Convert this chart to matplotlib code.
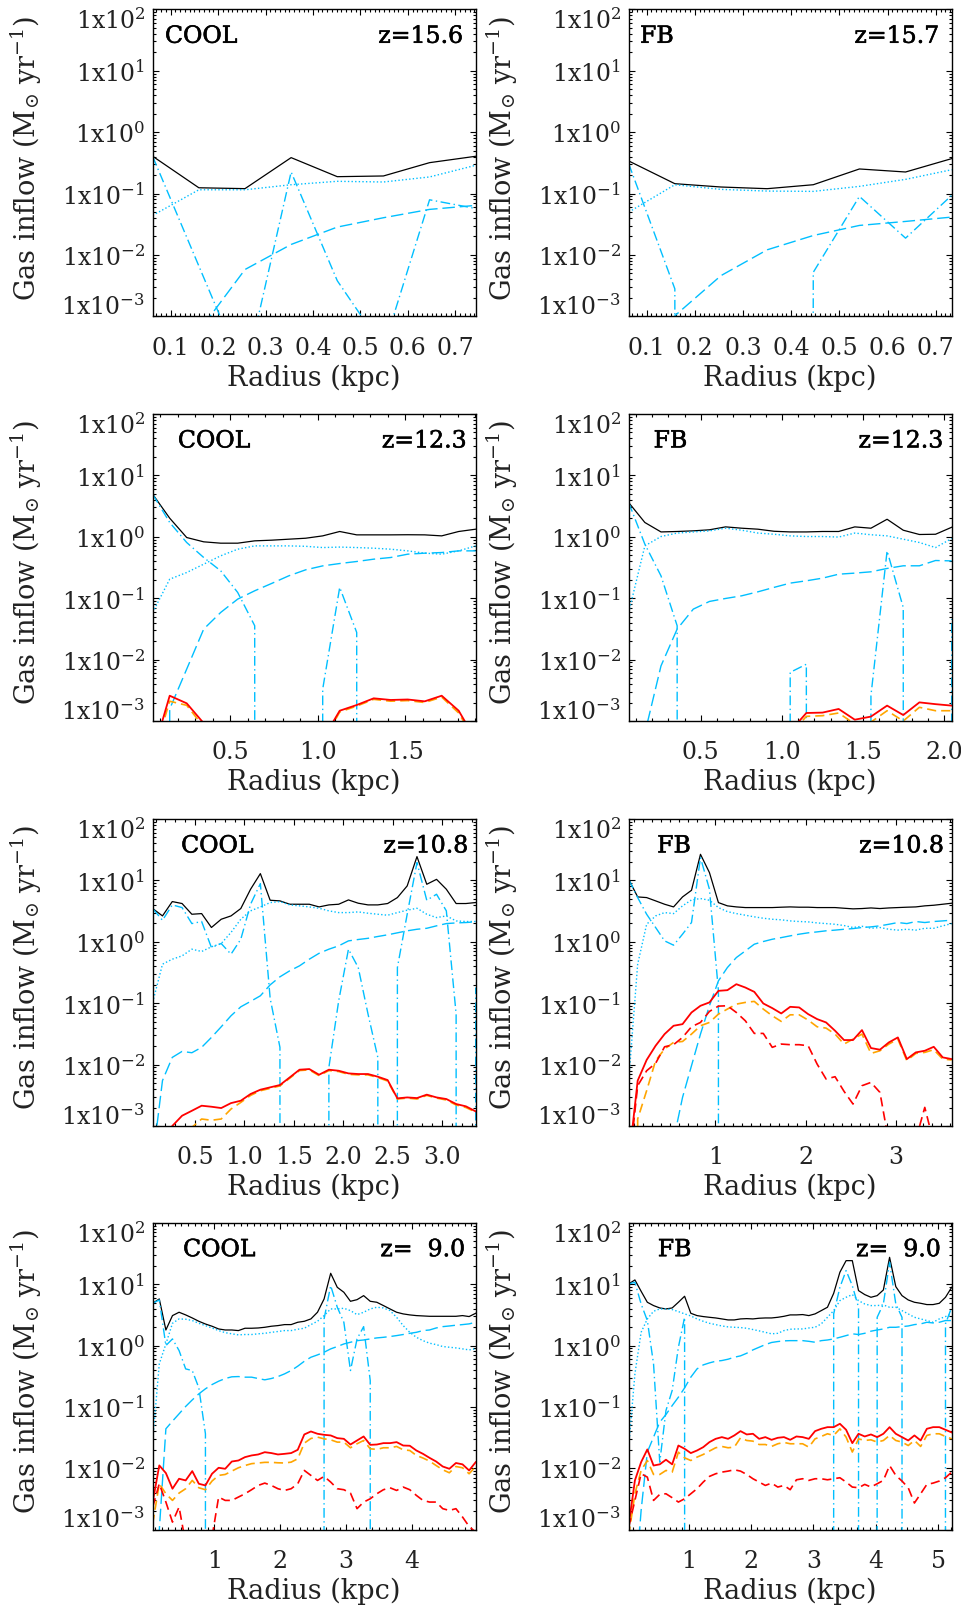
import numpy as np
import matplotlib
matplotlib.use('Agg')
import matplotlib.pyplot as plt
import matplotlib.transforms as mtrans
import matplotlib.patheffects as pe
from matplotlib.ticker import MultipleLocator, LogLocator, NullFormatter, FormatStrFormatter

plt.rcParams['font.family'] = ['DejaVu Serif']
plt.rcParams['mathtext.fontset'] = 'dejavuserif'

CYAN = '#00BFFF'
ORANGE = '#FFA500'
RED = '#FF0000'
TXT = '#222222'

# ---------------- COOL, z = 15.6 ----------------
r_cool_156 = np.linspace(0.062, 0.743, 8)
tot_cool_156 = [0.404, 0.124, 0.120, 0.384, 0.188, 0.193, 0.318, 0.404]
dot_cool_156 = [0.044, 0.115, 0.115, 0.139, 0.158, 0.154, 0.186, 0.288]
dash_cool_156 = [0, 5.7e-4, 5.78e-3, 0.0148, 0.0284, 0.0403, 0.0551, 0.064]
dd_cool_156 = [0.40, 6.6e-3, 1.1e-4, 0.224, 3.8e-3, 3.0e-4, 0.079, 0.057]

# ---------------- FB, z = 15.7 ----------------
r_fb_157 = np.linspace(0.0627, 0.733, 8)
tot_fb_157 = [0.339, 0.1445, 0.1276, 0.1198, 0.139, 0.251, 0.224, 0.370]
dot_fb_157 = [0.0498, 0.139, 0.1167, 0.1096, 0.1083, 0.1307, 0.170, 0.244]
dash_fb_157 = [0, 1.02e-3, 4.6e-3, 0.0121, 0.0207, 0.0302, 0.0351, 0.0413]
dd_fb_157 = [0.306, 2.8e-3, 0, 0, 5.2e-3, 0.0897, 0.01875, 0.0933]

# ---------------- COOL, z = 12.3 ----------------
r_cool_123 = np.linspace(0.058, 1.902, 20)
tot_cool_123 = [4.93, 2.01, 0.973, 0.828, 0.787, 0.787, 0.859, 0.881, 0.914, 0.948,
                1.035, 1.22, 1.075, 1.075, 1.075, 1.08, 1.075, 1.035, 1.22, 1.33]
dot_cool_123 = [0.0586, 0.204, 0.262, 0.358, 0.49, 0.628, 0.711, 0.711, 0.711, 0.70,
                0.668, 0.68, 0.668, 0.652, 0.628, 0.59, 0.541, 0.521, 0.59, 0.711]
dash_cool_123 = [0, 1.57e-3, 7.0e-3, 0.0314, 0.0586, 0.0966, 0.132, 0.174, 0.231, 0.290,
                 0.336, 0.367, 0.396, 0.432, 0.46, 0.521, 0.541, 0.554, 0.59, 0.59]
dd_cool_123 = [4.93, 1.71, 0.807, 0.46, 0.279, 0.124, 0.0356, 0, 0, 0,
               3.3e-3, 0.150, 0.0277, 0, 0, 0, 0, 0, 0, 0]
red_cool_123 = [2.9e-4, 2.58e-3, 1.94e-3, 9.2e-4, 0, 0, 0, 0, 0, 0,
                5e-4, 1.47e-3, 1.82e-3, 2.34e-3, 2.2e-3, 2.24e-3, 2.09e-3, 2.58e-3, 1.47e-3, 4.9e-4]
org_cool_123 = [2.5e-4, 2.1e-3, 1.8e-3, 8e-4, 0, 0, 0, 0, 0, 0,
                4.5e-4, 1.4e-3, 1.75e-3, 2.25e-3, 2.1e-3, 2.15e-3, 2.0e-3, 2.45e-3, 1.35e-3, 4.5e-4]

# ---------------- FB, z = 12.3 ----------------
r_fb_123 = np.linspace(0.056, 2.045, 21)
tot_fb_123 = [3.61, 1.71, 1.20, 1.22, 1.25, 1.30, 1.45, 1.38, 1.33, 1.23, 1.20,
              1.20, 1.22, 1.22, 1.45, 1.38, 1.93, 1.28, 1.09, 1.10, 1.43]
dot_fb_123 = [0.0586, 0.711, 1.01, 1.15, 1.20, 1.25, 1.38, 1.28, 1.15, 1.10, 1.035,
              1.01, 1.01, 0.99, 1.15, 1.08, 1.035, 0.914, 0.807, 0.668, 0.937]
dash_fb_123 = [0, 6.3e-4, 7.9e-3, 0.0314, 0.0664, 0.0885, 0.099, 0.1094, 0.127, 0.150, 0.176,
               0.192, 0.212, 0.246, 0.256, 0.269, 0.305, 0.337, 0.337, 0.411, 0.405]
dd_fb_123 = [3.61, 0.759, 0.231, 0.0356, 0, 0, 0, 0, 0, 0, 6.2e-3,
             8.4e-3, 0, 0, 0, 2.6e-3, 0.590, 0.0706, 0, 0, 0.046]
red_fb_123 = [0, 0, 0, 0, 0, 0, 0, 0, 0, 0, 6.8e-4,
              1.35e-3, 1.37e-3, 1.57e-3, 1.05e-3, 1.18e-3, 1.78e-3, 1.25e-3, 2.01e-3, 1.88e-3, 1.78e-3]
org_fb_123 = [0, 0, 0, 0, 0, 0, 0, 0, 0, 0, 6e-4,
              1.19e-3, 1.22e-3, 1.35e-3, 8.9e-4, 9.6e-4, 1.47e-3, 1.0e-3, 1.67e-3, 1.47e-3, 1.47e-3]

# ---------------- COOL, z = 10.8 ----------------
r_cool_108 = np.linspace(0.071, 3.34, 34)
tot_cool_108 = [3.48, 2.64, 4.52, 4.20, 2.81, 2.88, 1.71, 2.33, 2.64, 3.48, 7.18, 12.9,
                4.75, 4.64, 4.09, 4.09, 4.09, 3.70, 3.99, 4.09, 4.81, 4.25, 3.99, 3.99,
                4.20, 5.25, 8.13, 24.4, 8.65, 10.4, 7.18, 4.20, 4.20, 4.36]
dot_cool_108 = [0.103, 0.432, 0.521, 0.590, 0.758, 0.695, 0.828, 0.937, 1.42, 2.33, 3.19, 3.70,
                4.35, 4.52, 3.99, 3.85, 3.70, 3.52, 3.19, 2.99, 2.99, 3.07, 2.92, 2.81,
                2.71, 2.99, 3.27, 3.52, 2.81, 2.48, 2.64, 2.19, 2.14, 2.14]
dash_cool_108 = [2.8e-4, 5.5e-3, 0.0131, 0.0164, 0.0156, 0.0191, 0.0277, 0.0413, 0.0624, 0.0873,
                 0.107, 0.132, 0.199, 0.269, 0.337, 0.406, 0.521, 0.65, 0.758, 0.859, 1.035,
                 1.09, 1.14, 1.22, 1.30, 1.40, 1.51, 1.60, 1.66, 1.82, 1.98, 2.03, 2.06, 2.11]
dd_cool_108 = [3.48, 2.24, 3.99, 3.61, 1.98, 2.14, 0.807, 0.937, 0.628, 1.10, 4.09, 8.87,
               0.12, 0.0191, 0, 0, 0, 0, 9.0e-3, 0.109, 0.758, 0.381, 0.0664, 0.0131,
               0, 0.381, 2.81, 19.5, 4.75, 5.95, 3.19, 0.0664, 0, 0.18]
red_cool_108 = [2e-4, 5e-4, 1.0e-3, 1.47e-3, 1.77e-3, 2.14e-3, 2.06e-3, 1.96e-3, 2.36e-3, 2.58e-3,
                3.32e-3, 3.90e-3, 4.26e-3, 4.65e-3, 6.19e-3, 8.26e-3, 8.46e-3, 6.84e-3, 8.26e-3,
                7.94e-3, 7.19e-3, 7.02e-3, 7.02e-3, 6.35e-3, 5.60e-3, 2.82e-3, 2.92e-3, 2.85e-3,
                3.24e-3, 2.92e-3, 2.75e-3, 2.28e-3, 2.09e-3, 1.73e-3]
org_cool_108 = [1e-4, 3e-4, 5e-4, 6e-4, 9.5e-4, 1.30e-3, 1.24e-3, 1.30e-3, 1.89e-3, 2.42e-3,
                3.15e-3, 3.75e-3, 4.1e-3, 4.5e-3, 6.0e-3, 8.0e-3, 8.2e-3, 6.6e-3, 8.0e-3,
                7.7e-3, 6.95e-3, 6.8e-3, 6.8e-3, 6.15e-3, 5.4e-3, 2.75e-3, 2.85e-3, 2.75e-3,
                3.15e-3, 2.85e-3, 2.65e-3, 2.2e-3, 2.0e-3, 1.68e-3]

# ---------------- FB, z = 10.8 ----------------
r_fb_108 = np.linspace(0.041, 3.617, 37)
tot_fb_108 = [10.4, 5.38, 5.25, 4.64, 4.09, 3.70, 5.38, 6.90, 26.6, 13.4, 4.35, 3.85, 3.70,
              3.61, 3.61, 3.61, 3.61, 3.66, 3.70, 3.66, 3.66, 3.61, 3.61, 3.61, 3.52, 3.44,
              3.48, 3.56, 3.48, 3.56, 3.61, 3.66, 3.70, 3.85, 3.94, 4.09, 4.25]
dot_fb_108 = [5.5e-3, 0.432, 1.93, 2.64, 2.99, 2.88, 3.85, 4.81, 5.06, 4.75, 3.61, 3.10, 2.88,
              2.71, 2.55, 2.42, 2.33, 2.28, 2.19, 2.14, 2.11, 2.03, 1.98, 1.93, 1.84, 1.71,
              1.79, 1.66, 1.71, 1.60, 1.55, 1.60, 1.55, 1.66, 1.66, 1.82, 1.98]
dash_fb_108 = [0, 0, 0, 0, 0, 5.9e-4, 2.92e-3, 9.6e-3, 0.0314, 0.0908, 0.231, 0.381, 0.554,
               0.711, 0.914, 1.01, 1.10, 1.17, 1.25, 1.33, 1.40, 1.45, 1.51, 1.55, 1.60, 1.64,
               1.71, 1.75, 1.82, 1.93, 2.06, 1.98, 2.14, 2.06, 2.14, 2.19, 2.25]
dd_fb_108 = [10.4, 5.25, 2.81, 1.71, 1.035, 0.881, 1.33, 2.06, 23.5, 7.18, 0.159, 0, 0,
             0, 0, 0, 0, 0, 0, 0, 0, 0, 0, 0, 0, 0,
             0, 0, 0, 0, 0, 0, 0, 0, 0, 0, 0]
red_fb_108 = [2.6e-4, 5.47e-3, 0.0119, 0.0203, 0.0314, 0.0429, 0.0456, 0.0706, 0.0908, 0.103,
              0.159, 0.163, 0.204, 0.180, 0.153, 0.099, 0.0832, 0.0681, 0.0873, 0.0853, 0.0664,
              0.0551, 0.0486, 0.0356, 0.0251, 0.0251, 0.0365, 0.0186, 0.0175, 0.0230, 0.0277,
              0.0123, 0.0158, 0.0168, 0.0195, 0.0131, 0.0123]
org_fb_108 = [0, 1.3e-3, 3.76e-3, 0.0116, 0.0179, 0.0230, 0.0238, 0.0314, 0.0429, 0.0486,
              0.0664, 0.0802, 0.0966, 0.103, 0.107, 0.0802, 0.0624, 0.0505, 0.0647, 0.0647,
              0.0531, 0.0413, 0.0393, 0.0314, 0.0216, 0.0260, 0.0314, 0.0152, 0.0168, 0.0216,
              0.0260, 0.0116, 0.0152, 0.0158, 0.0175, 0.0123, 0.0119]
rdash_fb_108 = [2e-4, 4.53e-3, 7.94e-3, 0.0105, 0.0195, 0.0211, 0.0277, 0.0413, 0.0486, 0.0735,
                0.0896, 0.0908, 0.0706, 0.0517, 0.0322, 0.0322, 0.0191, 0.0216, 0.0211, 0.0211,
                0.0203, 0.0102, 5.82e-3, 6.35e-3, 3.67e-3, 2.28e-3, 4.53e-3, 5.13e-3, 3.53e-3,
                5.4e-4, 2e-4, 2e-4, 6e-4, 2.01e-3, 5.3e-4, 3e-4, 3e-4]

# ---------------- COOL, z = 9.0 ----------------
r_cool_90 = np.linspace(0.064, 4.967, 50)
tot_cool_90 = [4.87, 5.73, 1.79, 3.07, 3.48, 3.15, 2.81, 2.48, 2.24, 2.06, 1.86, 1.79, 1.79,
               1.75, 1.91, 1.91, 1.93, 1.98, 2.06, 2.11, 2.19, 2.19, 2.39, 2.48, 2.71, 3.48,
               5.73, 15.0, 8.87, 7.36, 5.25, 5.58, 6.49, 5.25, 5.06, 4.47, 3.94, 3.48, 3.27,
               3.15, 3.07, 3.03, 2.99, 2.99, 2.99, 2.99, 2.99, 3.07, 2.96, 3.35]
dot_cool_90 = [0.0284, 0.502, 1.06, 2.30, 2.71, 2.68, 2.55, 2.30, 2.11, 1.93, 1.75, 1.62, 1.55,
               1.49, 1.51, 1.51, 1.55, 1.58, 1.64, 1.69, 1.75, 1.75, 1.84, 1.91, 2.19, 2.48,
               3.07, 3.94, 3.94, 4.04, 3.70, 3.18, 3.48, 3.94, 4.20, 4.09, 3.70, 2.88, 2.11,
               1.64, 1.36, 1.20, 1.09, 1.035, 0.962, 0.937, 0.914, 0.881, 0.848, 0.881]
dash_cool_90 = [0, 9.8e-4, 0.0440, 0.0586, 0.0771, 0.1017, 0.130, 0.163, 0.197, 0.231, 0.262,
                0.290, 0.309, 0.312, 0.305, 0.305, 0.290, 0.276, 0.290, 0.312, 0.345, 0.391,
                0.460, 0.554, 0.644, 0.703, 0.777, 0.881, 0.962, 1.06, 1.13, 1.20, 1.23, 1.28,
                1.33, 1.36, 1.40, 1.45, 1.51, 1.58, 1.64, 1.75, 1.79, 1.93, 2.03, 2.08, 2.14,
                2.19, 2.25, 2.39]
dd_cool_90 = [4.87, 5.52, 0.997, 1.28, 0.828, 0.416, 0.391, 0.204, 0.0365,
              0, 0, 0, 0, 0, 0, 0, 0, 0, 0, 0, 0, 0, 0, 0, 0, 0,
              2.71, 9.44, 4.20, 2.39, 0.391, 1.28, 2.03, 0.269,
              0, 0, 0, 0, 0, 0, 0, 0, 0, 0, 0, 0, 0, 0, 0, 0]
red_cool_90 = [2.82e-3, 0.01114, 8.36e-3, 4.65e-3, 6.76e-3, 6.35e-3, 9.0e-3, 5.60e-3, 5.26e-3,
               8.15e-3, 0.0102, 9.82e-3, 0.0129, 0.0134, 0.0152, 0.0162, 0.0168, 0.0183, 0.0177,
               0.0168, 0.0172, 0.0177, 0.0200, 0.0356, 0.0398, 0.0365, 0.0351, 0.0343, 0.0310,
               0.0302, 0.0244, 0.0284, 0.0330, 0.0241, 0.0244, 0.0257, 0.0257, 0.0267, 0.0235,
               0.0233, 0.0195, 0.0172, 0.0148, 0.0129, 0.0107, 9.82e-3, 0.0122, 0.0116, 9.23e-3,
               0.0126]
org_cool_90 = [1.25e-3, 5.60e-3, 3.85e-3, 3.00e-3, 3.95e-3, 4.65e-3, 6.35e-3, 4.82e-3, 4.48e-3,
               6.20e-3, 7.66e-3, 7.94e-3, 9.0e-3, 0.0102, 0.0111, 0.0119, 0.0122, 0.0125, 0.0125,
               0.0123, 0.0122, 0.0126, 0.0143, 0.0257, 0.0306, 0.0322, 0.0302, 0.0291, 0.0267,
               0.0267, 0.0216, 0.0251, 0.0284, 0.0208, 0.0203, 0.0216, 0.0216, 0.0227, 0.0200,
               0.0195, 0.0162, 0.0147, 0.0131, 0.0111, 9.46e-3, 8.46e-3, 0.0107, 0.0102, 8.15e-3,
               0.0107]
rdash_cool_90 = [2.34e-3, 5.6e-3, 2.82e-3, 1.33e-3, 2.34e-3, 6e-4, 2e-4, 2e-4, 2e-4, 7.6e-4,
                 3.40e-3, 3.0e-3, 3.0e-3, 3.40e-3, 3.85e-3, 4.48e-3, 5.26e-3, 5.74e-3, 5.26e-3,
                 4.65e-3, 4.36e-3, 4.65e-3, 5.6e-3, 9.23e-3, 7.66e-3, 6.35e-3, 7.38e-3, 5.97e-3,
                 4.65e-3, 4.48e-3, 3.95e-3, 2.20e-3, 2.82e-3, 3.19e-3, 3.85e-3, 4.48e-3, 4.82e-3,
                 4.36e-3, 4.95e-3, 4.48e-3, 3.62e-3, 3.0e-3, 2.82e-3, 2.82e-3, 2.20e-3, 2.06e-3,
                 2.20e-3, 1.61e-3, 1.13e-3, 9.1e-4]

# ---------------- FB, z = 9.0 ----------------
r_fb_90 = np.linspace(0.038, 5.215, 53)
tot_fb_90 = [10.05, 11.7, 7.64, 5.06, 4.47, 4.09, 3.94, 4.09, 5.06, 6.34, 3.35, 3.07, 2.96,
             2.88, 2.81, 2.71, 2.61, 2.61, 2.71, 2.74, 2.71, 2.78, 2.81, 2.81, 2.88, 2.99,
             3.15, 3.15, 3.19, 3.07, 3.27, 3.70, 4.20, 7.08, 15.6, 24.1, 24.1, 7.84, 6.75,
             6.10, 6.49, 8.03, 27.3, 9.10, 6.49, 5.52, 5.06, 4.87, 4.64, 4.64, 4.87, 6.10, 8.87]
dot_fb_90 = [0.0221, 0.345, 1.64, 2.71, 3.61, 3.94, 3.94, 3.85, 3.57, 3.27, 3.03, 2.71, 2.48,
             2.30, 2.19, 2.08, 2.01, 1.98, 1.96, 1.91, 1.82, 1.73, 1.64, 1.55, 1.58, 1.75,
             1.84, 1.86, 1.86, 1.93, 1.98, 2.25, 2.88, 3.70, 5.38, 6.10, 6.75, 5.38, 4.75,
             4.47, 4.47, 4.58, 4.20, 4.20, 3.70, 3.27, 2.88, 2.71, 2.55, 2.39, 2.71, 2.96, 3.27]
dash_fb_90 = [0, 1e-4, 2.06e-3, 0.0184, 0.0322, 0.0565, 0.0752, 0.105, 0.144, 0.204, 0.305,
              0.416, 0.483, 0.521, 0.554, 0.569, 0.598, 0.644, 0.678, 0.748, 0.848, 0.937,
              1.035, 1.12, 1.16, 1.19, 1.20, 1.20, 1.20, 1.17, 1.13, 1.20, 1.23, 1.28, 1.36,
              1.45, 1.55, 1.51, 1.58, 1.71, 1.79, 1.86, 1.98, 1.98, 2.03, 2.08, 2.19, 2.25,
              2.39, 2.33, 2.39, 2.55, 2.55]
dd_fb_90 = [10.05, 10.7, 4.75, 2.55, 0.502, 0.0126, 0.0873, 0.185, 0.937, 2.88,
            0, 0, 0, 0, 0, 0, 0, 0, 0, 0, 0, 0, 0, 0, 0, 0, 0, 0, 0, 0, 0, 0, 0,
            3.27, 8.87, 16.6, 9.44, 4.20, 0, 0,
            2.88, 4.75, 22.6, 4.75, 2.88, 0, 0, 0, 0, 0, 0, 2.25, 4.20]
red_fb_90 = [1.18e-3, 6.35e-3, 0.0126, 0.0203, 0.0111, 0.0116, 0.0138, 0.0116, 0.0235, 0.0208,
             0.0177, 0.0195, 0.0221, 0.0267, 0.0302, 0.0322, 0.0302, 0.0343, 0.0403, 0.0356,
             0.0365, 0.0302, 0.0322, 0.0291, 0.0314, 0.0322, 0.0291, 0.0330, 0.0322, 0.0302,
             0.0403, 0.0440, 0.0468, 0.0468, 0.0531, 0.0424, 0.0257, 0.0365, 0.0330, 0.0356,
             0.0322, 0.0365, 0.0468, 0.0365, 0.0322, 0.0284, 0.0343, 0.0284, 0.0440, 0.0468,
             0.0468, 0.0424, 0.0384]
org_fb_90 = [8e-4, 3.85e-3, 9.23e-3, 0.0134, 7.94e-3, 7.94e-3, 9.23e-3, 8.67e-3, 0.0183, 0.0148,
             0.0134, 0.0152, 0.0168, 0.0191, 0.0216, 0.0227, 0.0216, 0.0221, 0.0314, 0.0284,
             0.0277, 0.0244, 0.0244, 0.0227, 0.0251, 0.0264, 0.0251, 0.0251, 0.0251, 0.0221,
             0.0302, 0.0330, 0.0365, 0.0343, 0.0440, 0.0322, 0.0184, 0.0302, 0.0284, 0.0291,
             0.0267, 0.0284, 0.0343, 0.0284, 0.0267, 0.0235, 0.0284, 0.0227, 0.0343, 0.0365,
             0.0365, 0.0330, 0.0302]
rdash_fb_90 = [1.1e-3, 3.0e-3, 8.15e-3, 7.19e-3, 3.0e-3, 3.76e-3, 3.85e-3, 3.32e-3, 2.82e-3,
               3.19e-3, 3.85e-3, 4.65e-3, 5.97e-3, 7.38e-3, 8.15e-3, 8.67e-3, 9.0e-3, 9.46e-3,
               9.0e-3, 7.94e-3, 6.76e-3, 5.97e-3, 5.26e-3, 5.74e-3, 4.95e-3, 5.26e-3, 4.48e-3,
               6.50e-3, 6.76e-3, 6.35e-3, 6.76e-3, 6.76e-3, 6.50e-3, 6.76e-3, 7.02e-3, 5.97e-3,
               4.95e-3, 4.82e-3, 5.47e-3, 4.95e-3, 5.60e-3, 6.35e-3, 0.0111, 7.66e-3, 6.20e-3,
               4.82e-3, 2.72e-3, 3.85e-3, 5.47e-3, 5.74e-3, 6.20e-3, 7.02e-3, 8.67e-3]

# line styles, in drawing order
styles = [
    ('tot',   dict(color='black', lw=0.9, ls='-')),
    ('dot',   dict(color=CYAN, lw=1.0, ls=(0, (1.0, 1.6)))),
    ('dash',  dict(color=CYAN, lw=1.0, ls=(0, (9, 3.5)))),
    ('dd',    dict(color=CYAN, lw=1.0, ls=(0, (7, 2.5, 1, 2.5)))),
    ('org',   dict(color=ORANGE, lw=1.2, ls=(0, (5.5, 3)))),
    ('rdash', dict(color=RED, lw=1.2, ls=(0, (5.5, 3)))),
    ('red',   dict(color=RED, lw=1.3, ls='-')),
]

# panel table: grid cell, labels, data, x axis setup
panels = [
    (0, 0, 'COOL', 'z=15.6', 0.038, 0.962, r_cool_156,
     dict(tot=tot_cool_156, dot=dot_cool_156, dash=dash_cool_156, dd=dd_cool_156),
     0.1, 0.01, '%.1f'),
    (0, 1, 'FB', 'z=15.7', 0.035, 0.962, r_fb_157,
     dict(tot=tot_fb_157, dot=dot_fb_157, dash=dash_fb_157, dd=dd_fb_157),
     0.1, 0.01, '%.1f'),
    (1, 0, 'COOL', 'z=12.3', 0.078, 0.973, r_cool_123,
     dict(tot=tot_cool_123, dot=dot_cool_123, dash=dash_cool_123, dd=dd_cool_123,
          org=org_cool_123, red=red_cool_123),
     0.5, 0.1, '%.1f'),
    (1, 1, 'FB', 'z=12.3', 0.077, 0.975, r_fb_123,
     dict(tot=tot_fb_123, dot=dot_fb_123, dash=dash_fb_123, dd=dd_fb_123,
          org=org_fb_123, red=red_fb_123),
     0.5, 0.1, '%.1f'),
    (2, 0, 'COOL', 'z=10.8', 0.088, 0.978, r_cool_108,
     dict(tot=tot_cool_108, dot=dot_cool_108, dash=dash_cool_108, dd=dd_cool_108,
          org=org_cool_108, red=red_cool_108),
     0.5, 0.1, '%.1f'),
    (2, 1, 'FB', 'z=10.8', 0.088, 0.977, r_fb_108,
     dict(tot=tot_fb_108, dot=dot_fb_108, dash=dash_fb_108, dd=dd_fb_108,
          org=org_fb_108, rdash=rdash_fb_108, red=red_fb_108),
     1.0, 0.1, '%d'),
    (3, 0, 'COOL', 'z=  9.0', 0.094, 0.968, r_cool_90,
     dict(tot=tot_cool_90, dot=dot_cool_90, dash=dash_cool_90, dd=dd_cool_90,
          org=org_cool_90, rdash=rdash_cool_90, red=red_cool_90),
     1.0, 0.1, '%d'),
    (3, 1, 'FB', 'z=  9.0', 0.090, 0.967, r_fb_90,
     dict(tot=tot_fb_90, dot=dot_fb_90, dash=dash_fb_90, dd=dd_fb_90,
          org=org_fb_90, rdash=rdash_fb_90, red=red_fb_90),
     1.0, 0.1, '%d'),
]

fig = plt.figure(figsize=(9.62, 16.08), dpi=100)

col_left = [0.15873, 0.65353]
row_bottom = [0.80267, 0.55100, 0.29913, 0.04807]
ax_w, ax_h = 0.33576, 0.19092

# slightly heavier strokes for the run / redshift tags
tag_fx = [pe.Stroke(linewidth=0.4, foreground='black'), pe.Normal()]

for row, col, name, zlab, name_x, z_x, r, series, xmaj, xmin, xfmt in panels:
    ax = fig.add_axes([col_left[col], row_bottom[row], ax_w, ax_h])
    ax.set_yscale('log')

    for key, st in styles:
        if key in series:
            ax.plot(r, series[key], **st)

    ax.set_xlim(r[0], r[-1])
    ax.set_ylim(1e-3, 1e2)

    ax.xaxis.set_major_locator(MultipleLocator(xmaj))
    ax.xaxis.set_minor_locator(MultipleLocator(xmin))
    ax.xaxis.set_major_formatter(FormatStrFormatter(xfmt))
    ax.yaxis.set_major_locator(LogLocator(base=10, numticks=10))
    ax.yaxis.set_minor_locator(LogLocator(base=10, subs=np.arange(2, 10), numticks=20))
    ax.yaxis.set_major_formatter(NullFormatter())
    ax.yaxis.set_minor_formatter(NullFormatter())

    ax.tick_params(which='both', direction='in', top=True, right=True, width=0.8)
    ax.tick_params(which='major', length=4.5)
    ax.tick_params(which='minor', length=2.2)
    ax.tick_params(axis='x', which='major', pad=14.0, labelsize=17, labelcolor=TXT)
    for sp in ax.spines.values():
        sp.set_linewidth(1.0)

    # y tick labels written as 1x10^n, the end ones pulled inside
    ytrans = mtrans.blended_transform_factory(ax.transAxes, ax.transData)
    for p in range(-3, 3):
        dy = {2: -13.7, -3: 1.7}.get(p, -7.2)
        tr = mtrans.offset_copy(ytrans, fig=fig, x=-5.5, y=dy, units='points')
        ax.text(0, 10.0 ** p, r'1x10$^{%d}$' % p, transform=tr, ha='right',
                va='baseline', fontsize=17, color=TXT)

    ax.set_xlabel('Radius (kpc)', fontsize=19.5, color=TXT)
    ax.xaxis.set_label_coords(0.5, -0.198)
    ax.xaxis.label.set_verticalalignment('center')
    ax.set_ylabel(r'Gas inflow (M$_{\odot}$ yr$^{-1}$)', fontsize=19.5, color=TXT)
    ax.yaxis.set_label_coords(-0.392, 0.519)
    ax.yaxis.label.set_verticalalignment('center')

    ax.text(name_x, 0.891, name, transform=ax.transAxes, ha='left', va='baseline',
            fontsize=17, color='black', path_effects=tag_fx)
    ax.text(z_x, 0.891, zlab, transform=ax.transAxes, ha='right', va='baseline',
            fontsize=17, color='black', path_effects=tag_fx)

fig.savefig('out.png', dpi=100)
